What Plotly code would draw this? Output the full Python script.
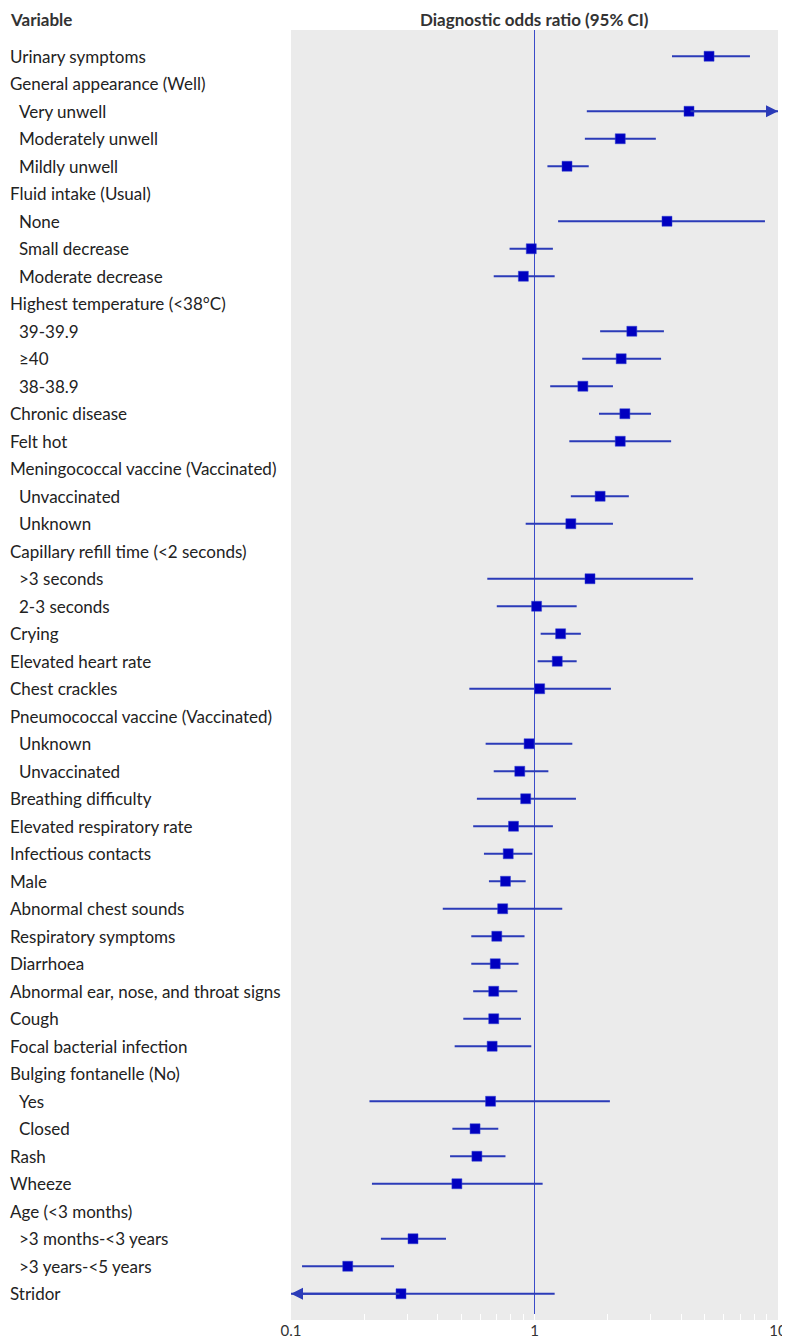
import math
import plotly.graph_objects as go

# Forest plot: diagnostic odds ratios with 95% CI (log scale)

labels = [
    "Urinary symptoms", "General appearance (Well)", "Very unwell", "Moderately unwell",
    "Mildly unwell", "Fluid intake (Usual)", "None", "Small decrease", "Moderate decrease",
    "Highest temperature (<38°C)", "39-39.9", "≥40", "38-38.9", "Chronic disease", "Felt hot",
    "Meningococcal vaccine (Vaccinated)", "Unvaccinated", "Unknown",
    "Capillary refill time (<2 seconds)", ">3 seconds", "2-3 seconds", "Crying",
    "Elevated heart rate", "Chest crackles", "Pneumococcal vaccine (Vaccinated)", "Unknown",
    "Unvaccinated", "Breathing difficulty", "Elevated respiratory rate", "Infectious contacts",
    "Male", "Abnormal chest sounds", "Respiratory symptoms", "Diarrhoea",
    "Abnormal ear, nose, and throat signs", "Cough", "Focal bacterial infection",
    "Bulging fontanelle (No)", "Yes", "Closed", "Rash", "Wheeze", "Age (<3 months)",
    ">3 months-<3 years", ">3 years-<5 years", "Stridor",
]

# 1 = sub level (indented)
indent = [0, 0, 1, 1, 1, 0, 1, 1, 1, 0, 1, 1, 1, 0, 0, 0, 1, 1, 0, 1, 1, 0, 0, 0, 0, 1,
          1, 0, 0, 0, 0, 0, 0, 0, 0, 0, 0, 0, 1, 1, 0, 0, 0, 1, 1, 0]

# None = reference category (no estimate)
odds = [5.21, None, 4.31, 2.25, 1.36, None, 3.50, 0.97, 0.90, None, 2.51, 2.27, 1.58,
        2.35, 2.25, None, 1.86, 1.41, None, 1.69, 1.02, 1.28, 1.24, 1.05, None, 0.95,
        0.87, 0.92, 0.82, 0.78, 0.76, 0.74, 0.70, 0.69, 0.68, 0.68, 0.67, None, 0.66,
        0.57, 0.58, 0.48, None, 0.317, 0.171, 0.283]
ci_low = [3.67, None, 1.64, 1.61, 1.13, None, 1.25, 0.79, 0.68, None, 1.86, 1.57, 1.16,
          1.84, 1.39, None, 1.41, 0.92, None, 0.64, 0.70, 1.06, 1.03, 0.54, None, 0.63,
          0.68, 0.58, 0.56, 0.62, 0.65, 0.42, 0.55, 0.55, 0.56, 0.51, 0.47, None, 0.21,
          0.46, 0.45, 0.215, None, 0.234, 0.111, 0.1]
ci_high = [7.67, None, 10, 3.15, 1.67, None, 8.84, 1.19, 1.21, None, 3.40, 3.31, 2.10,
           3.01, 3.64, None, 2.44, 2.10, None, 4.48, 1.49, 1.55, 1.49, 2.06, None, 1.43,
           1.14, 1.48, 1.19, 0.98, 0.92, 1.30, 0.91, 0.86, 0.85, 0.88, 0.97, None, 2.04,
           0.71, 0.76, 1.08, None, 0.433, 0.265, 1.21]
# CI runs off the axis
arrow_dir = {2: "right", 45: "left"}

x_ticks = [0.1, 1, 10]
x_tick_text = ["0.1", "1", "10"]
null_value = 1

mark_color = "#0000C0"
line_color = "#2B3BB8"
font_family = "Lato, 'Open Sans', sans-serif"
rows = list(range(len(labels)))

# page body adds 8px, so the figure is a bit smaller than the window
W, H = 782, 1335
LM = 283

fig = go.Figure()

# CI whiskers
lx, ly = [], []
for i in rows:
    if odds[i] is None:
        continue
    lx += [ci_low[i], ci_high[i], None]
    ly += [i, i, None]
fig.add_trace(go.Scatter(x=lx, y=ly, mode="lines",
                         line=dict(color=line_color, width=2),
                         hoverinfo="skip", showlegend=False))

# point estimates
px_, py_ = [], []
for i in rows:
    if odds[i] is not None:
        px_.append(odds[i])
        py_.append(i)
fig.add_trace(go.Scatter(x=px_, y=py_, mode="markers",
                         marker=dict(symbol="square", size=10, color=mark_color,
                                     line=dict(color="#3040D0", width=0.5)),
                         showlegend=False))

fig.add_vline(x=null_value, line=dict(color="#3A4BC8", width=1), layer="below")

annotations = []
for i, lab in enumerate(labels):
    annotations.append(dict(
        text=lab, xref="paper", yref="y", x=0, y=i, xanchor="left", yanchor="middle",
        xshift=-LM + 9 * indent[i], showarrow=False,
        font=dict(family=font_family, size=17, color="#222")))

for i, d in arrow_dir.items():
    end = ci_high[i] if d == "right" else ci_low[i]
    annotations.append(dict(
        x=math.log10(end), y=i, ax=math.log10(odds[i]), ay=i,
        xref="x", yref="y", axref="x", ayref="y", text="",
        showarrow=True, arrowhead=2, arrowsize=1.2, arrowwidth=2,
        arrowcolor=line_color, standoff=0))

annotations.append(dict(text="<b>Variable</b>", xref="paper", yref="paper", x=0, y=1,
                        xshift=-LM, yshift=11, xanchor="left", yanchor="middle",
                        showarrow=False, font=dict(family=font_family, size=17, color="#333")))
annotations.append(dict(text="<b>Diagnostic odds ratio (95% CI)</b>", xref="paper",
                        yref="paper", x=0.5, y=1, yshift=11, xanchor="center",
                        yanchor="middle", showarrow=False,
                        font=dict(family=font_family, size=17, color="#333")))

fig.update_layout(
    width=W, height=H,
    margin=dict(l=LM, r=12, t=22, b=23),
    plot_bgcolor="#EBEBEB", paper_bgcolor="white",
    annotations=annotations,
    font=dict(family=font_family, color="#333"),
)
fig.update_xaxes(type="log", range=[-1, 1], tickvals=x_ticks, ticktext=x_tick_text,
                 ticks="inside", ticklen=6, tickcolor="white", showgrid=False,
                 zeroline=False, showline=False, automargin=False,
                 tickfont=dict(size=15, color="#333"),
                 minor=dict(ticks="inside", ticklen=6, tickcolor="white", showgrid=False,
                            tickvals=[0.2, 0.3, 0.4, 0.5, 0.6, 0.7, 0.8, 0.9,
                                      2, 3, 4, 5, 6, 7, 8, 9]))
fig.update_yaxes(range=[len(labels) - 1 + 0.9545, -0.9545], showticklabels=False,
                 showgrid=False, zeroline=False, ticks="", automargin=False)

fig.write_html("out.html")
